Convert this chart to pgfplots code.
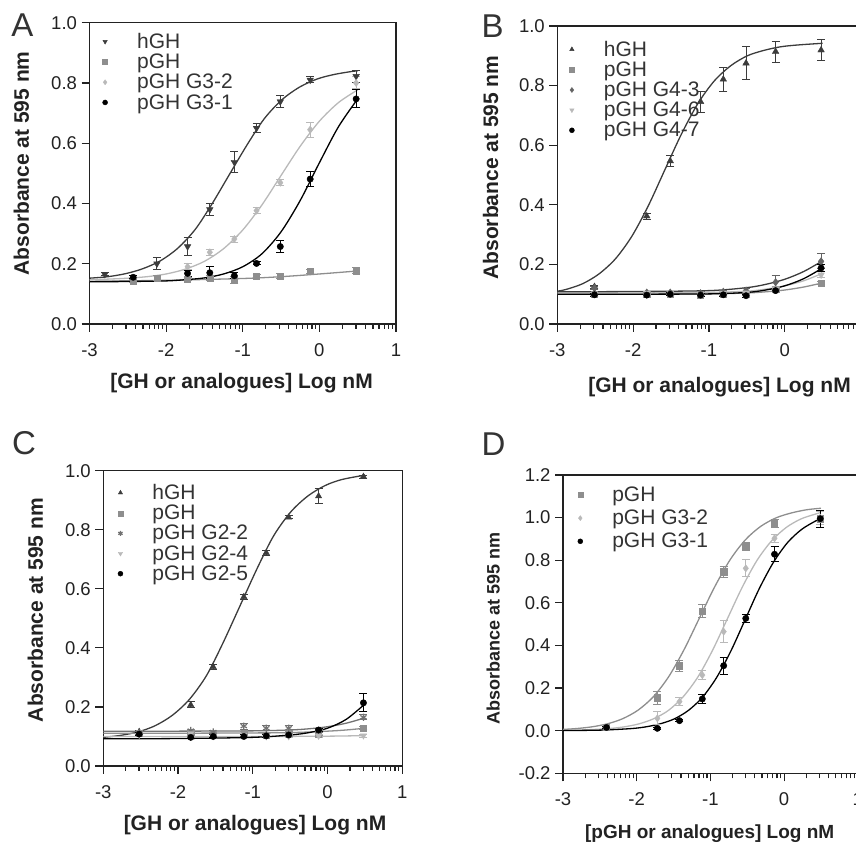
\documentclass[border=0pt]{standalone}
\usepackage{fontspec}
\setmainfont{Liberation Sans}
\usepackage{pgfplots}
\pgfplotsset{compat=1.18}

\definecolor{axcol}{HTML}{222222}
\definecolor{txtcol}{HTML}{333333}
\definecolor{cdark}{HTML}{3C3C3C}
\definecolor{cmid}{HTML}{8E8E8E}
\definecolor{clight}{HTML}{B9B9B9}
\newcommand\lgf{\fontsize{21pt}{24pt}\selectfont}

\pgfplotsset{
  panel/.style={
    scale only axis, anchor=south west,
    xmin=-3, xmax=1,
    xtick={-3,-2,-1,0,1}, xticklabels={-3,-2,-1,0,1},
    minor xtick={-2.699,-2.523,-2.398,-2.301,-2.222,-2.155,-2.097,-2.046,
                 -1.699,-1.523,-1.398,-1.301,-1.222,-1.155,-1.097,-1.046,
                 -0.699,-0.523,-0.398,-0.301,-0.222,-0.155,-0.097,-0.046,
                 0.301,0.477,0.602,0.699,0.778,0.845,0.903,0.954},
    tick align=outside, tick pos=left,
    major tick length=8pt, minor tick length=5pt,
    axis line style={line width=1.2pt, color=axcol},
    every tick/.style={line width=1.2pt, color=axcol},
    tick label style={font=\fontsize{18.5pt}{20pt}\selectfont, text=axcol},
    xticklabel style={yshift=-8pt},
    yticklabel style={xshift=-1pt},
    ylabel={Absorbance at 595 nm},
    ylabel style={font=\fontsize{21pt}{24pt}\selectfont\bfseries, text=axcol},
    legend style={draw=none, fill=none, inner sep=0pt, anchor=north west,
      row sep=0pt, font=\lgf, text=txtcol},
    legend cell align=left,
    legend image code/.code={\path[draw=none, fill=none] (-5pt,-5pt) rectangle (30pt,5pt);
      \draw[##1, mark size=2.5pt] plot coordinates {(0pt,0pt)};},
  },
  curve/.style={no marks, smooth, line width=1.3pt, forget plot},
  pts/.style={only marks, mark size=3.4pt,
    error bars/y dir=both, error bars/y explicit,
    error bars/error bar style={line width=1pt},
    error bars/error mark options={rotate=90, mark size=4pt, line width=1pt}},
}

\begin{document}
\begin{tikzpicture}[x=1pt,y=1pt]
\path[use as bounding box] (0,0) rectangle (856,845);

% ---------------- A ----------------
\begin{axis}[panel, at={(89.5pt,521pt)}, width=306.5pt, height=301.3pt,
  ymin=0, ymax=1, ytick={0,0.2,0.4,0.6,0.8,1.0},
  yticklabels={0.0,0.2,0.4,0.6,0.8,1.0},
  ylabel style={at={(axis description cs:-0.222,0.533)}, anchor=center},
  legend style={at={(axis description cs:0.034,0.972)}}]
\addplot[curve, color=cdark] table {
-3.00 0.152
-2.76 0.157
-2.53 0.167
-2.31 0.183
-2.08 0.209
-1.85 0.251
-1.62 0.314
-1.40 0.399
-1.17 0.498
-0.94 0.596
-0.72 0.681
-0.49 0.744
-0.26 0.786
-0.03 0.813
0.19 0.828
0.42 0.838
0.50 0.840
};
\addplot[curve, color=cmid] table {
-3.0 0.142
-2.0 0.145
-1.0 0.151
-0.5 0.157
0.0 0.166
0.5 0.176
};
\addplot[curve, color=clight] table {
-3.00 0.147
-2.75 0.149
-2.50 0.152
-2.25 0.157
-2.00 0.166
-1.75 0.182
-1.50 0.208
-1.25 0.250
-1.00 0.312
-0.75 0.395
-0.50 0.493
-0.25 0.590
0.00 0.673
0.25 0.735
0.50 0.777
};
\addplot[curve, color=black] table {
-3.00 0.140
-2.50 0.141
-2.00 0.143
-1.75 0.147
-1.50 0.153
-1.25 0.166
-1.00 0.190
-0.75 0.233
-0.50 0.306
-0.25 0.410
0.00 0.535
0.25 0.655
0.50 0.747
};
\addplot[pts, color=cdark, mark=triangle*, mark options={rotate=180}, mark size=3.8pt]
  table[x index=0, y index=1, y error index=2] {
-2.80 0.165 0.005
-2.12 0.200 0.020
-1.72 0.257 0.030
-1.43 0.380 0.020
-1.11 0.537 0.035
-0.82 0.650 0.015
-0.51 0.738 0.020
-0.12 0.810 0.010
0.48 0.822 0.020
};
\addlegendentry{hGH}
\addplot[pts, color=cmid, mark=square*, mark size=3.1pt]
  table[x index=0, y index=1, y error index=2] {
-2.43 0.143 0.005
-2.12 0.152 0.008
-1.72 0.148 0.005
-1.43 0.152 0.008
-1.11 0.146 0.010
-0.82 0.159 0.005
-0.51 0.159 0.008
-0.12 0.174 0.008
0.48 0.177 0.010
};
\addlegendentry{pGH}
\addplot[pts, color=clight, mark=diamond*, mark size=3.6pt]
  table[x index=0, y index=1, y error index=2] {
-1.72 0.190 0.010
-1.43 0.238 0.010
-1.11 0.282 0.010
-0.82 0.376 0.010
-0.51 0.469 0.010
-0.12 0.645 0.025
0.48 0.800 0.020
};
\addlegendentry{pGH G3-2}
\addplot[pts, color=black, mark=*, mark size=3.2pt]
  table[x index=0, y index=1, y error index=2] {
-2.43 0.155 0.005
-1.72 0.168 0.010
-1.43 0.170 0.020
-1.11 0.160 0.010
-0.82 0.201 0.005
-0.51 0.257 0.020
-0.12 0.481 0.025
0.48 0.747 0.030
};
\addlegendentry{pGH G3-1}
\end{axis}

% ---------------- B ----------------
\begin{axis}[panel, at={(557.3pt,521pt)}, width=303.2pt, height=298pt,
  ymin=0, ymax=1, ytick={0,0.2,0.4,0.6,0.8,1.0},
  yticklabels={0.0,0.2,0.4,0.6,0.8,1.0},
  ylabel style={at={(axis description cs:-0.22,0.525)}, anchor=center},
  legend style={at={(axis description cs:0.031,0.957)}}]
\addplot[curve, color=cdark] table {
-3.000 0.110
-2.884 0.116
-2.667 0.135
-2.450 0.168
-2.232 0.219
-2.015 0.295
-1.797 0.398
-1.580 0.518
-1.363 0.637
-1.145 0.740
-0.928 0.816
-0.710 0.867
-0.493 0.900
-0.276 0.918
-0.058 0.930
0.159 0.936
0.500 0.942
};
\addplot[curve, color=cmid] table {
-3.00 0.100
-2.00 0.100
-1.00 0.101
-0.50 0.104
-0.25 0.108
0.00 0.114
0.25 0.124
0.50 0.138
};
\addplot[curve, color=clight] table {
-3.00 0.104
-2.00 0.104
-1.00 0.106
-0.50 0.110
-0.25 0.117
0.00 0.128
0.25 0.145
0.50 0.170
};
\addplot[curve, color=black] table {
-3.00 0.100
-2.00 0.100
-1.00 0.101
-0.50 0.106
-0.25 0.114
0.00 0.128
0.25 0.152
0.50 0.188
};
\addplot[curve, color=cdark] table {
-3.00 0.108
-2.00 0.109
-1.00 0.112
-0.50 0.122
-0.25 0.133
0.00 0.150
0.25 0.176
0.50 0.212
};
\addplot[pts, color=cdark, mark=triangle*, mark size=3.8pt]
  table[x index=0, y index=1, y error index=2] {
-2.51 0.125 0.005
-1.82 0.362 0.010
-1.51 0.547 0.020
-1.11 0.746 0.035
-0.81 0.821 0.040
-0.51 0.875 0.055
-0.12 0.914 0.035
0.48 0.919 0.035
};
\addlegendentry{hGH}
\addplot[pts, color=cmid, mark=square*, mark size=3.1pt]
  table[x index=0, y index=1, y error index=2] {
-2.51 0.100 0.005
-1.82 0.100 0.005
-1.51 0.100 0.005
-1.11 0.098 0.005
-0.81 0.100 0.005
-0.51 0.100 0.005
-0.12 0.117 0.008
0.48 0.137 0.005
};
\addlegendentry{pGH}
\addplot[pts, color=cdark!80, mark=diamond*, mark size=3.8pt]
  table[x index=0, y index=1, y error index=2] {
-2.51 0.120 0.005
-1.82 0.105 0.005
-1.51 0.105 0.005
-1.11 0.103 0.005
-0.81 0.108 0.005
-0.51 0.112 0.008
-0.12 0.140 0.022
0.48 0.210 0.025
};
\addlegendentry{pGH G4-3}
\addplot[pts, color=clight, mark=triangle*, mark options={rotate=180}, mark size=3.8pt]
  table[x index=0, y index=1, y error index=2] {
-2.51 0.100 0.005
-1.82 0.104 0.005
-1.51 0.102 0.005
-1.11 0.100 0.005
-0.81 0.104 0.005
-0.51 0.105 0.005
-0.12 0.118 0.008
0.48 0.165 0.010
};
\addlegendentry{pGH G4-6}
\addplot[pts, color=black, mark=*, mark size=3.2pt]
  table[x index=0, y index=1, y error index=2] {
-2.51 0.098 0.005
-1.82 0.097 0.005
-1.51 0.100 0.005
-1.11 0.097 0.005
-0.81 0.098 0.005
-0.51 0.095 0.005
-0.12 0.112 0.005
0.48 0.188 0.012
};
\addlegendentry{pGH G4-7}
\end{axis}

% ---------------- C ----------------
\begin{axis}[panel, at={(103.3pt,79pt)}, width=299pt, height=295.3pt,
  ymin=0, ymax=1, ytick={0,0.2,0.4,0.6,0.8,1.0},
  yticklabels={0.0,0.2,0.4,0.6,0.8,1.0},
  ylabel style={at={(axis description cs:-0.227,0.528)}, anchor=center},
  legend style={at={(axis description cs:0.040,0.961)}}]
\addplot[curve, color=cdark] table {
-3.00 0.097
-2.76 0.104
-2.53 0.116
-2.31 0.136
-2.08 0.171
-1.85 0.225
-1.62 0.306
-1.40 0.416
-1.17 0.543
-0.94 0.670
-0.72 0.780
-0.49 0.861
-0.26 0.915
-0.03 0.950
0.19 0.970
0.50 0.985
};
\addplot[curve, color=cmid] table {
-3.00 0.111
-2.00 0.111
-1.00 0.112
-0.50 0.113
0.00 0.118
0.25 0.122
0.50 0.128
};
\addplot[curve, color=cmid!80!black] table {
-3.00 0.118
-2.00 0.118
-1.00 0.119
-0.50 0.122
-0.25 0.126
0.00 0.133
0.25 0.145
0.50 0.163
};
\addplot[curve, color=clight] table {
-3.00 0.100
-1.00 0.100
0.00 0.101
0.50 0.103
};
\addplot[curve, color=black] table {
-3.00 0.092
-2.00 0.093
-1.00 0.097
-0.50 0.105
-0.25 0.113
0.00 0.128
0.25 0.158
0.50 0.210
};
\addplot[pts, color=cdark, mark=triangle*, mark size=3.6pt]
  table[x index=0, y index=1, y error index=2] {
-2.52 0.116 0.005
-1.83 0.207 0.010
-1.53 0.336 0.008
-1.12 0.573 0.008
-0.82 0.722 0.008
-0.52 0.842 0.005
-0.12 0.914 0.025
0.48 0.980 0.005
};
\addlegendentry{hGH}
\addplot[pts, color=cmid, mark=square*, mark size=3.1pt]
  table[x index=0, y index=1, y error index=2] {
-2.52 0.110 0.005
-1.83 0.115 0.005
-1.53 0.110 0.005
-1.12 0.112 0.005
-0.82 0.105 0.005
-0.52 0.110 0.005
-0.12 0.108 0.005
0.48 0.128 0.005
};
\addlegendentry{pGH}
\addplot[pts, color=cmid!80!black, mark=asterisk, mark size=3.6pt, line width=1.2pt]
  table[x index=0, y index=1, y error index=2] {
-2.52 0.112 0.005
-1.83 0.120 0.005
-1.53 0.115 0.005
-1.12 0.135 0.010
-0.82 0.128 0.008
-0.52 0.128 0.008
-0.12 0.120 0.005
0.48 0.165 0.008
};
\addlegendentry{pGH G2-2}
\addplot[pts, color=clight, mark=triangle*, mark options={rotate=180}, mark size=3.6pt]
  table[x index=0, y index=1, y error index=2] {
-2.52 0.105 0.005
-1.83 0.110 0.005
-1.53 0.100 0.005
-1.12 0.105 0.005
-0.82 0.100 0.005
-0.52 0.100 0.005
-0.12 0.102 0.005
0.48 0.103 0.005
};
\addlegendentry{pGH G2-4}
\addplot[pts, color=black, mark=*, mark size=3.2pt]
  table[x index=0, y index=1, y error index=2] {
-2.52 0.108 0.005
-1.83 0.097 0.005
-1.53 0.100 0.005
-1.12 0.100 0.005
-0.82 0.102 0.005
-0.52 0.105 0.005
-0.12 0.122 0.005
0.48 0.214 0.030
};
\addlegendentry{pGH G2-5}
\end{axis}

% ---------------- D ----------------
\begin{axis}[panel, at={(563pt,71.7pt)}, width=294.8pt, height=298.3pt,
  ymin=-0.2, ymax=1.2, ytick={-0.2,0,0.2,0.4,0.6,0.8,1.0,1.2},
  yticklabels={-0.2,0.0,0.2,0.4,0.6,0.8,1.0,1.2},
  ylabel style={at={(axis description cs:-0.237,0.487)}, anchor=center,
    font=\fontsize{18pt}{21pt}\selectfont\bfseries},
  legend style={at={(axis description cs:0.041,0.9675)}, row sep=3pt}]
\addplot[curve, color=cmid] table {
-3.000 0.006
-2.817 0.010
-2.608 0.018
-2.400 0.032
-2.192 0.056
-1.983 0.096
-1.775 0.159
-1.567 0.253
-1.358 0.380
-1.150 0.528
-0.942 0.675
-0.733 0.802
-0.525 0.896
-0.317 0.959
-0.108 0.999
0.100 1.022
0.308 1.037
0.500 1.044
};
\addplot[curve, color=clight] table {
-3.00 0.002
-2.77 0.003
-2.57 0.006
-2.37 0.010
-2.17 0.018
-1.97 0.032
-1.77 0.056
-1.57 0.095
-1.37 0.159
-1.17 0.252
-0.97 0.378
-0.77 0.525
-0.57 0.672
-0.37 0.798
-0.17 0.891
0.03 0.954
0.23 0.994
0.43 1.017
0.50 1.024
};
\addplot[curve, color=black] table {
-3.000 0.001
-2.838 0.001
-2.453 0.003
-2.068 0.010
-1.876 0.018
-1.684 0.032
-1.492 0.055
-1.299 0.095
-1.107 0.157
-0.915 0.250
-0.722 0.374
-0.530 0.520
-0.338 0.666
-0.145 0.790
0.047 0.883
0.239 0.945
0.432 0.985
0.500 0.994
};
\addplot[pts, color=cmid, mark=square*, mark size=3.1pt]
  table[x index=0, y index=1, y error index=2] {
-2.41 0.018 0.005
-1.72 0.155 0.030
-1.42 0.305 0.025
-1.11 0.562 0.030
-0.82 0.746 0.025
-0.52 0.864 0.020
-0.13 0.973 0.020
0.49 0.995 0.040
};
\addlegendentry{pGH}
\addplot[pts, color=clight, mark=diamond*, mark size=3.6pt]
  table[x index=0, y index=1, y error index=2] {
-2.41 0.018 0.005
-1.72 0.058 0.030
-1.42 0.136 0.020
-1.11 0.261 0.020
-0.82 0.465 0.050
-0.52 0.762 0.040
-0.13 0.903 0.020
0.49 1.000 0.030
};
\addlegendentry{pGH G3-2}
\addplot[pts, color=black, mark=*, mark size=3.2pt]
  table[x index=0, y index=1, y error index=2] {
-2.41 0.015 0.005
-1.72 0.011 0.005
-1.42 0.047 0.005
-1.11 0.149 0.020
-0.82 0.305 0.040
-0.52 0.527 0.020
-0.13 0.828 0.035
0.49 0.995 0.040
};
\addlegendentry{pGH G3-1}
\end{axis}

% x axis titles
\node[font=\fontsize{21pt}{24pt}\selectfont\bfseries, text=axcol] at (241.5,461.5) {[GH or analogues] Log nM};
\node[font=\fontsize{21pt}{24pt}\selectfont\bfseries, text=axcol] at (719.5,457.5) {[GH or analogues] Log nM};
\node[font=\fontsize{21pt}{24pt}\selectfont\bfseries, text=axcol] at (255,20) {[GH or analogues] Log nM};
\node[font=\fontsize{19pt}{22pt}\selectfont\bfseries, text=axcol] at (709.7,11) {[pGH or analogues] Log nM};

% panel letters
\node[font=\fontsize{33pt}{33pt}\selectfont, text=txtcol] at (22.5,820) {A};
\node[font=\fontsize{33pt}{33pt}\selectfont, text=txtcol] at (492.5,819) {B};
\node[font=\fontsize{33pt}{33pt}\selectfont, text=txtcol] at (24,402) {C};
\node[font=\fontsize{33pt}{33pt}\selectfont, text=txtcol] at (493.5,401) {D};
\end{tikzpicture}
\end{document}
